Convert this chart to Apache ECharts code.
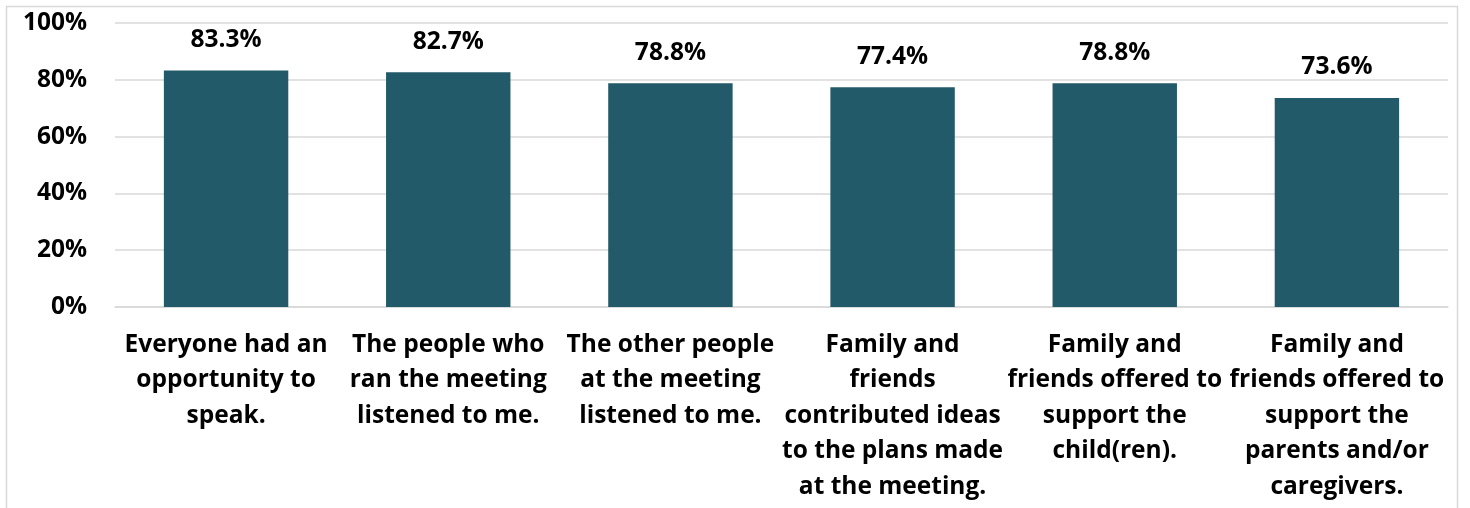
<!DOCTYPE html>
<html>
<head>
<meta charset="utf-8">
<script src="https://cdn.jsdelivr.net/npm/echarts@6/dist/echarts.min.js"></script>
<style>
html,body{margin:0;padding:0;background:#fff;}
#chart{width:1470px;height:508px;}
</style>
</head>
<body>
<div id="chart"></div>
<script>
const categories = [
  "Everyone had an\nopportunity to\nspeak.",
  "The people who\nran the meeting\nlistened to me.",
  "The other people\nat the meeting\nlistened to me.",
  "Family and\nfriends\ncontributed ideas\nto the plans made\nat the meeting.",
  "Family and\nfriends offered to\nsupport the\nchild(ren).",
  "Family and\nfriends offered to\nsupport the\nparents and/or\ncaregivers."
];
const values = [83.3, 82.7, 78.8, 77.4, 78.8, 73.6];
const yTicks = [0, 20, 40, 60, 80, 100];

const FONT = '"Open Sans"';
const chart = echarts.init(document.getElementById('chart'), null, {renderer: 'canvas'});
chart.setOption({
  animation: false,
  graphic: [{
    type: 'rect',
    left: 4, top: 4,
    shape: {width: 1451, height: 503},
    style: {fill: 'none', stroke: '#d9d9d9', lineWidth: 1.5},
    silent: true
  }],
  grid: {left: 115, right: 22, top: 23, bottom: 201},
  xAxis: {
    type: 'category',
    data: categories,
    axisLine: {show: true, lineStyle: {color: '#d9d9d9', width: 1.5}},
    axisTick: {show: false},
    axisLabel: {
      interval: 0,
      margin: 20,
      color: '#000',
      fontFamily: FONT,
      fontWeight: 'bold',
      fontSize: 24.5,
      lineHeight: 35.5,
      align: 'center'
    }
  },
  yAxis: {
    type: 'value',
    min: yTicks[0],
    max: yTicks[yTicks.length - 1],
    interval: 20,
    axisLine: {show: false},
    axisTick: {show: false},
    splitLine: {lineStyle: {color: '#d9d9d9', width: 1.5}},
    axisLabel: {
      margin: 28,
      color: '#000',
      fontFamily: FONT,
      fontWeight: 'bold',
      fontSize: 24.5,
      formatter: v => v + '%'
    }
  },
  series: [{
    type: 'bar',
    data: values,
    barWidth: '56%',
    itemStyle: {color: '#235a69'},
    label: {
      show: true,
      position: 'top',
      distance: 18,
      color: '#000',
      fontFamily: FONT,
      fontWeight: 'bold',
      fontSize: 24.5,
      formatter: p => p.value.toFixed(1) + '%'
    }
  }]
});
</script>
</body>
</html>
